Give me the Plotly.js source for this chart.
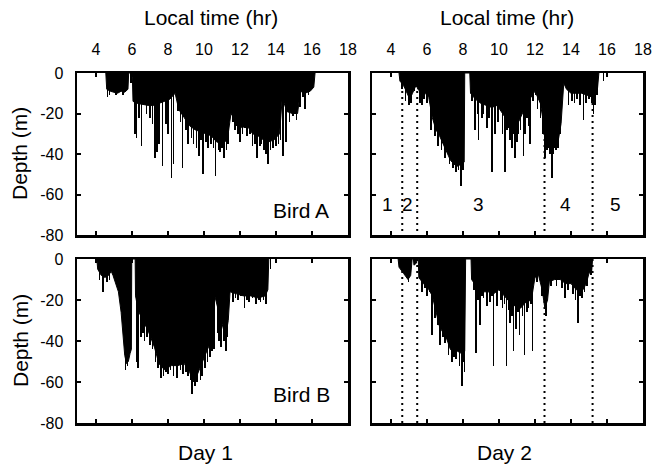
<!DOCTYPE html>
<html>
<head>
<meta charset="utf-8">
<script src="https://cdn.plot.ly/plotly-3.0.1.min.js"></script>
<style>html,body{margin:0;padding:0;background:#fff;}#chart{width:654px;height:471px;}</style>
</head>
<body>
<div id="chart"></div>
<script>
// ---------------- DATA ----------------
const timeTicks = [4, 6, 8, 10, 12, 14, 16, 18];
const depthTicks = [0, -20, -40, -60, -80];
const depthTickText = ['0', '-20', '-40', '-60', '-80'];

// Day 1, Bird A : envelope of dense shallow diving (hr, m)
const a1EnvT = [4.55,4.6,4.8,5.0,5.2,5.4,5.6,5.78,5.82,6.02,6.06,6.3,6.6,6.9,7.2,7.5,7.8,8.1,8.4,8.6,8.9,9.2,9.5,9.8,10.1,10.4,10.7,11.0,11.3,11.5,11.8,12.1,12.4,12.7,13.0,13.3,13.6,13.9,14.2,14.35,14.6,14.9,15.2,15.35,15.6,15.9,16.1,16.17];
const a1EnvD = [0,-8,-9,-9.5,-10,-9,-9.5,-8,0,0,-14,-15,-15.5,-16,-16,-15,-14,-13,-10,-18,-22,-26,-28,-29,-30,-31,-34,-35,-33,-20,-24,-27,-26,-30,-31,-33,-34,-33,-30,-12,-19,-20,-20,-9,-10,-9,-7,0];
// Day 1, Bird A : individual deeper dives
const a1DiveT = [4.65,4.75,5.1,5.5,5.95,6.17,6.26,6.4,6.54,6.8,7.0,7.15,7.28,7.4,7.52,7.69,7.9,8.02,8.2,8.3,8.57,8.7,8.81,9.0,9.13,9.3,9.41,9.59,9.74,9.85,9.96,10.1,10.24,10.4,10.52,10.65,10.8,10.89,11.0,11.13,11.25,11.35,11.63,11.72,11.81,11.9,12.0,12.15,12.28,12.4,12.56,12.7,12.85,12.96,13.1,13.2,13.35,13.45,13.57,13.7,13.85,14.0,14.13,14.25,14.4,14.56,14.75,14.96,15.15,15.33,15.5,15.61,15.8];
const a1DiveD = [-12,-11,-11,-11,-5,-30,-32,-22,-36,-20,-22,-25,-42,-39,-35,-46,-25,-30,-52,-45,-19,-24,-47,-28,-35,-32,-35,-37,-41,-33,-50,-34,-37,-35,-37,-51,-38,-39,-37,-42,-38,-35,-24,-28,-26,-30,-34,-30,-27,-31,-30,-36,-35,-42,-36,-35,-38,-40,-45,-38,-37,-36,-35,-33,-41,-34,-24,-21,-23,-17,-12,-18,-11];

// Day 2, Bird A
const a2EnvT = [4.45,4.5,4.7,4.9,5.05,5.2,5.4,5.5,5.7,5.9,6.1,6.3,6.5,6.7,6.9,7.1,7.3,7.5,7.7,7.9,8.07,8.1,8.38,8.42,8.7,9.0,9.3,9.6,9.9,10.2,10.5,10.8,11.1,11.4,11.7,12.0,12.3,12.5,12.7,12.9,13.1,13.3,13.45,13.6,13.75,14.0,14.3,14.6,14.9,15.2,15.45,15.55];
const a2EnvD = [0,-4,-6,-10,-13,-10,-6,-8,-10,-10,-12,-22,-28,-31,-35,-39,-43,-45,-46,-45,-44,0,0,-10,-13,-15,-16,-17,-16,-20,-24,-26,-24,-18,-13,-9,-15,-26,-33,-35,-34,-33,-25,-5,-8,-10,-10,-10,-11,-12,-10,0];
const a2DiveT = [4.6,4.8,5.0,5.1,5.3,5.62,5.72,5.85,6.0,6.24,6.45,6.6,6.8,7.0,7.25,7.45,7.6,7.75,7.89,8.0,8.5,8.68,8.8,8.87,9.05,9.15,9.33,9.45,9.61,9.79,9.95,10.07,10.2,10.35,10.45,10.53,10.62,10.72,10.8,10.9,11.0,11.09,11.2,11.37,11.45,11.55,11.65,11.74,11.9,12.02,12.15,12.3,12.45,12.57,12.68,12.76,12.85,12.94,13.02,13.09,13.18,13.28,13.4,13.87,14.05,14.2,14.33,14.5,14.7,14.85,15.0,15.16,15.25,15.35,15.44,15.81];
const a2DiveD = [-8,-14,-16,-15,-9,-15,-16,-13,-15,-28,-31,-36,-38,-42,-45,-47,-49,-48,-56,-48,-14,-28,-20,-33,-22,-20,-27,-22,-49,-30,-24,-16,-30,-49,-28,-27,-33,-37,-30,-42,-34,-30,-28,-41,-30,-22,-26,-35,-14,-11,-18,-22,-30,-42,-38,-37,-40,-52,-40,-37,-38,-37,-30,-16,-14,-15,-13,-16,-23,-15,-13,-15,-20,-16,-11,-4];

// Day 1, Bird B
const b1EnvT = [4.05,4.1,4.3,4.5,4.7,4.85,4.95,5.1,5.25,5.4,5.5,5.6,5.7,5.8,5.9,5.97,5.99,6.18,6.2,6.35,6.55,6.9,7.25,7.5,7.8,8.2,8.55,8.9,9.2,9.4,9.65,9.95,10.2,10.5,10.6,10.8,11.0,11.2,11.35,11.45,11.8,12.2,12.6,13.0,13.4,13.55,13.6];
const b1EnvD = [0,-5,-8,-9,-8,-6,-8,-12,-16,-26,-38,-47,-51,-50,-46,-44,0,0,-18,-25,-29,-35,-43,-51,-54,-52,-52,-51,-55,-60,-56,-49,-44,-38,-18,-25,-32,-38,-30,-16,-17,-18,-18,-19,-18,-15,0];
const b1DiveT = [4.2,4.4,4.6,4.75,5.65,5.75,6.26,6.33,6.5,6.6,6.7,6.85,7.0,7.15,7.3,7.45,7.6,7.75,7.9,8.0,8.15,8.3,8.5,8.7,8.85,9.0,9.1,9.25,9.35,9.5,9.6,9.8,9.9,10.05,10.2,10.35,10.45,10.55,10.75,10.85,10.95,11.1,11.24,11.3,11.6,11.75,11.9,12.05,12.26,12.4,12.5,12.7,12.9,13.05,13.15,13.3,13.45,13.7];
const b1DiveD = [-10,-16,-11,-10,-54,-52,-50,-53,-38,-36,-40,-38,-42,-44,-50,-53,-58,-57,-55,-56,-54,-57,-58,-54,-56,-55,-57,-59,-66,-62,-60,-59,-57,-53,-50,-48,-45,-44,-36,-40,-43,-40,-45,-38,-21,-19,-20,-18,-24,-20,-21,-19,-22,-20,-21,-20,-22,-5];

// Day 2, Bird B
const b2EnvT = [4.4,4.45,4.7,4.95,5.1,5.18,5.25,5.28,5.42,5.45,5.52,5.55,5.8,6.05,6.3,6.5,6.7,6.9,7.1,7.3,7.5,7.7,7.9,8.1,8.15,8.45,8.48,8.8,9.1,9.4,9.7,10.0,10.3,10.6,10.9,11.2,11.5,11.8,12.0,12.2,12.4,12.55,12.7,12.8,13.1,13.4,13.7,14.0,14.3,14.6,14.85,15.0,15.15,15.2];
const b2EnvD = [0,-4,-7,-10,-8,0,0,-3,-2,0,0,-9,-12,-14,-18,-26,-33,-36,-39,-44,-46,-45,-46,-45,0,0,-10,-14,-16,-16,-17,-15,-18,-21,-23,-24,-21,-20,-9,-8,-15,-24,-20,-11,-10,-10,-12,-12,-15,-16,-12,-7,-6,0];
const b2DiveT = [4.98,5.72,5.9,6.0,6.15,6.28,6.46,6.6,6.74,6.9,7.02,7.2,7.39,7.5,7.6,7.8,7.94,8.02,8.09,8.6,8.74,8.85,8.96,9.05,9.15,9.33,9.52,9.6,9.7,9.89,10.1,10.2,10.3,10.41,10.52,10.63,10.72,10.81,10.94,11.05,11.15,11.3,11.42,11.55,11.65,11.78,11.87,12.11,12.39,12.61,12.9,13.2,13.5,13.68,13.85,14.1,14.25,14.39,14.5,14.61,14.75,14.89,15.1];
const b2DiveD = [-11,-16,-14,-18,-16,-37,-29,-32,-42,-38,-41,-47,-50,-48,-49,-52,-62,-50,-55,-15,-46,-20,-32,-18,-19,-23,-21,-18,-52,-23,-20,-24,-22,-52,-25,-31,-28,-45,-34,-26,-37,-28,-47,-26,-24,-22,-45,-11,-18,-28,-13,-13,-14,-19,-15,-17,-20,-31,-18,-19,-16,-13,-8];

// Day 2 behavioural zones
const zoneBounds = [4.63, 5.46, 12.53, 15.2];
const zoneLabels = ['1', '2', '3', '4', '5'];
const zoneLabelT = [3.82, 4.9, 8.85, 13.68, 16.5];

const dayLabels = ['Day 1', 'Day 2'];
const birdLabels = ['Bird A', 'Bird B'];

// ---------------- BUILD ----------------
const W = 654, H = 471;
const FONT = 'Liberation Sans, Arial, Helvetica, sans-serif';
const fx = p => p / W;
const fy = p => 1 - p / H;

const panels = [
  {envT: a1EnvT, envD: a1EnvD, diveT: a1DiveT, diveD: a1DiveD, xa: 'x',  ya: 'y'},
  {envT: a2EnvT, envD: a2EnvD, diveT: a2DiveT, diveD: a2DiveD, xa: 'x2', ya: 'y2'},
  {envT: b1EnvT, envD: b1EnvD, diveT: b1DiveT, diveD: b1DiveD, xa: 'x3', ya: 'y3'},
  {envT: b2EnvT, envD: b2EnvD, diveT: b2DiveT, diveD: b2DiveD, xa: 'x4', ya: 'y4'}
];

const traces = [];
panels.forEach(p => {
  traces.push({
    type: 'scatter', mode: 'lines', x: p.envT, y: p.envD, xaxis: p.xa, yaxis: p.ya,
    fill: 'tozeroy', fillcolor: '#000', line: {color: '#000', width: 1},
    hoverinfo: 'skip', showlegend: false
  });
  traces.push({
    type: 'bar', x: p.diveT, y: p.diveD, xaxis: p.xa, yaxis: p.ya,
    width: 0.09, marker: {color: '#000', line: {width: 0}},
    hoverinfo: 'skip', showlegend: false
  });
});

const xL = [fx(77), fx(348)], xR = [fx(372), fx(643)];
const yT = [fy(235), fy(73)], yB = [fy(423), fy(259)];

function xAxis(domain, anchor, showLabels) {
  return {
    domain: domain, anchor: anchor, range: [2.95, 18], side: 'top',
    tickvals: timeTicks, ticktext: timeTicks.map(String), showticklabels: showLabels,
    ticks: 'inside', ticklen: 4, tickwidth: 2, tickcolor: '#000',
    showline: true, linewidth: 2.5, linecolor: '#000', mirror: 'allticks',
    showgrid: false, zeroline: false, fixedrange: true,
    ticklabelstandoff: 9,
    tickfont: {family: FONT, size: 16, color: '#000'}
  };
}
function yAxis(domain, anchor, showLabels) {
  return {
    domain: domain, anchor: anchor, range: [-80, 0],
    tickvals: depthTicks, ticktext: depthTickText, showticklabels: showLabels,
    ticks: 'inside', ticklen: 4, tickwidth: 2, tickcolor: '#000',
    showline: true, linewidth: 2.5, linecolor: '#000', mirror: 'allticks',
    showgrid: false, zeroline: false, fixedrange: true,
    ticklabelstandoff: 8,
    tickfont: {family: FONT, size: 16, color: '#000'}
  };
}

const shapes = [];
[['x2', 'y2'], ['x4', 'y4']].forEach(([xr, yr]) => {
  zoneBounds.forEach(b => {
    shapes.push({type: 'line', xref: xr, yref: yr, x0: b, x1: b, y0: 0, y1: -80,
      layer: 'below', line: {color: '#000', width: 2, dash: '2px,4px'}});
  });
});

const annotations = [];
const big = {family: FONT, size: 21, color: '#000'};
[211, 507].forEach(px => annotations.push({
  text: 'Local time (hr)', xref: 'paper', yref: 'paper', x: fx(px), y: fy(18),
  showarrow: false, xanchor: 'center', yanchor: 'middle', font: big}));
[[205, dayLabels[0]], [504, dayLabels[1]]].forEach(([px, t]) => annotations.push({
  text: t, xref: 'paper', yref: 'paper', x: fx(px), y: fy(452),
  showarrow: false, xanchor: 'center', yanchor: 'middle', font: big}));
[154, 341].forEach(py => annotations.push({
  text: 'Depth (m)', xref: 'paper', yref: 'paper', x: fx(20), y: fy(py), textangle: -90,
  showarrow: false, xanchor: 'center', yanchor: 'middle', font: big}));
[[210, birdLabels[0]], [394.5, birdLabels[1]]].forEach(([py, t]) => annotations.push({
  text: t, xref: 'paper', yref: 'paper', x: fx(301), y: fy(py),
  showarrow: false, xanchor: 'center', yanchor: 'middle', font: big}));
zoneLabels.forEach((z, i) => annotations.push({
  text: z, xref: 'x2', yref: 'y2', x: zoneLabelT[i], y: -64.7,
  showarrow: false, xanchor: 'center', yanchor: 'middle',
  font: {family: FONT, size: 19, color: '#000'}}));

const layout = {
  width: W, height: H, margin: {l: 0, r: 0, t: 0, b: 0},
  paper_bgcolor: '#fff', plot_bgcolor: '#fff', showlegend: false,
  bargap: 0, barmode: 'overlay',
  xaxis: xAxis(xL, 'y', true),
  xaxis2: xAxis(xR, 'y2', true),
  xaxis3: xAxis(xL, 'y3', false),
  xaxis4: xAxis(xR, 'y4', false),
  yaxis: yAxis(yT, 'x', true),
  yaxis2: yAxis(yT, 'x2', false),
  yaxis3: yAxis(yB, 'x3', true),
  yaxis4: yAxis(yB, 'x4', false),
  shapes: shapes, annotations: annotations
};

Plotly.newPlot('chart', traces, layout, {displayModeBar: false, staticPlot: true});
</script>
</body>
</html>
